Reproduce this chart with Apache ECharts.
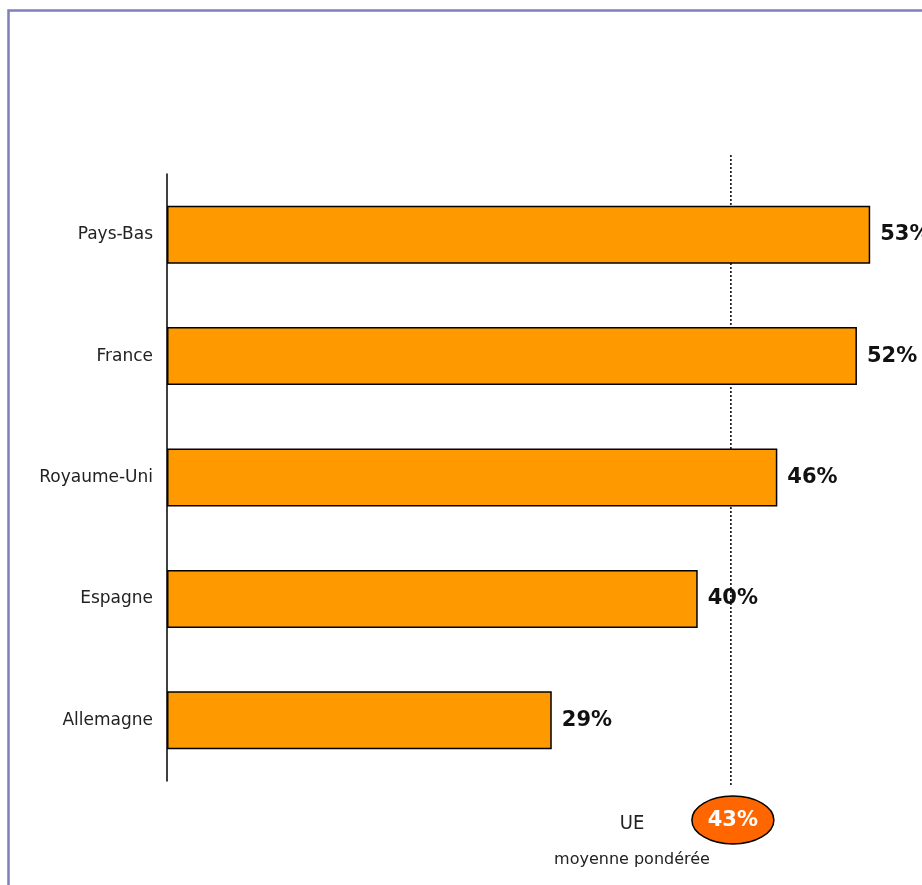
<!DOCTYPE html>
<html>
<head>
<meta charset="utf-8">
<script src="https://cdn.jsdelivr.net/npm/echarts@6/dist/echarts.min.js"></script>
<style>
  html, body { margin: 0; padding: 0; background: #fff; }
  #chart { width: 922px; height: 885px; }
</style>
</head>
<body>
<div id="chart"></div>
<script>
// pays (du haut vers le bas) et parts en %
const countries = ["Pays-Bas", "France", "Royaume-Uni", "Espagne", "Allemagne"];
const shares = [53, 52, 46, 40, 29];
// moyenne UE : valeur affichée et position de la ligne pointillée
const euAverage = 43;
const euLinePos = 42.5;

const chart = echarts.init(document.getElementById("chart"));

const option = {
  animation: false,
  backgroundColor: "#fff",
  grid: { left: 167, right: 12, top: 174, height: 607 },
  xAxis: {
    type: "value",
    min: 0,
    max: 56,
    show: false
  },
  yAxis: {
    type: "category",
    inverse: true,
    data: countries,
    axisLine: { show: true, lineStyle: { color: "#000", width: 1.5 } },
    axisTick: { show: false },
    axisLabel: {
      margin: 14,
      color: "#222",
      fontSize: 17,
      fontFamily: "'DejaVu Sans', sans-serif"
    }
  },
  series: [
    {
      type: "bar",
      data: shares,
      barWidth: 58,
      itemStyle: { color: "#FF9900", borderColor: "#000", borderWidth: 1.5 },
      label: {
        show: true,
        position: "right",
        distance: 10,
        formatter: "{c}%",
        color: "#111",
        fontSize: 21,
        fontWeight: "bold",
        fontFamily: "'DejaVu Sans', sans-serif"
      }
    }
  ]
};

chart.setOption(option);

// ligne de la moyenne UE et étiquette, placées via l'échelle de l'axe x
const lx = chart.convertToPixel({ xAxisIndex: 0 }, euLinePos);
chart.setOption({
  graphic: [
    {
      type: "rect",
      left: 6, top: 8,
      shape: { width: 1000, height: 1000 },
      style: { fill: "none", stroke: "#7f7fbd", lineWidth: 2.5 }
    },
    {
      type: "line",
      shape: { x1: lx, y1: 155, x2: lx, y2: 785 },
      style: { stroke: "#000", lineWidth: 1.5, lineDash: [2, 2] }
    },
    {
      type: "ellipse",
      shape: { cx: lx + 2, cy: 820, rx: 41, ry: 24 },
      style: { fill: "#FF6600", stroke: "#000", lineWidth: 1.5 }
    },
    {
      type: "text",
      x: lx + 2, y: 821,
      style: {
        text: euAverage + "%",
        fill: "#fff",
        fontSize: 21,
        fontWeight: "bold",
        fontFamily: "'DejaVu Sans', sans-serif",
        align: "center",
        verticalAlign: "middle"
      }
    },
    {
      type: "text",
      x: 632, y: 824,
      style: {
        text: "UE",
        fill: "#222",
        fontSize: 20,
        fontFamily: "'DejaVu Sans Condensed', 'DejaVu Sans', sans-serif",
        align: "center",
        verticalAlign: "middle"
      }
    },
    {
      type: "text",
      x: 632, y: 860,
      style: {
        text: "moyenne pondérée",
        fill: "#222",
        fontSize: 16,
        fontFamily: "'DejaVu Sans', sans-serif",
        align: "center",
        verticalAlign: "middle"
      }
    }
  ]
});
</script>
</body>
</html>
